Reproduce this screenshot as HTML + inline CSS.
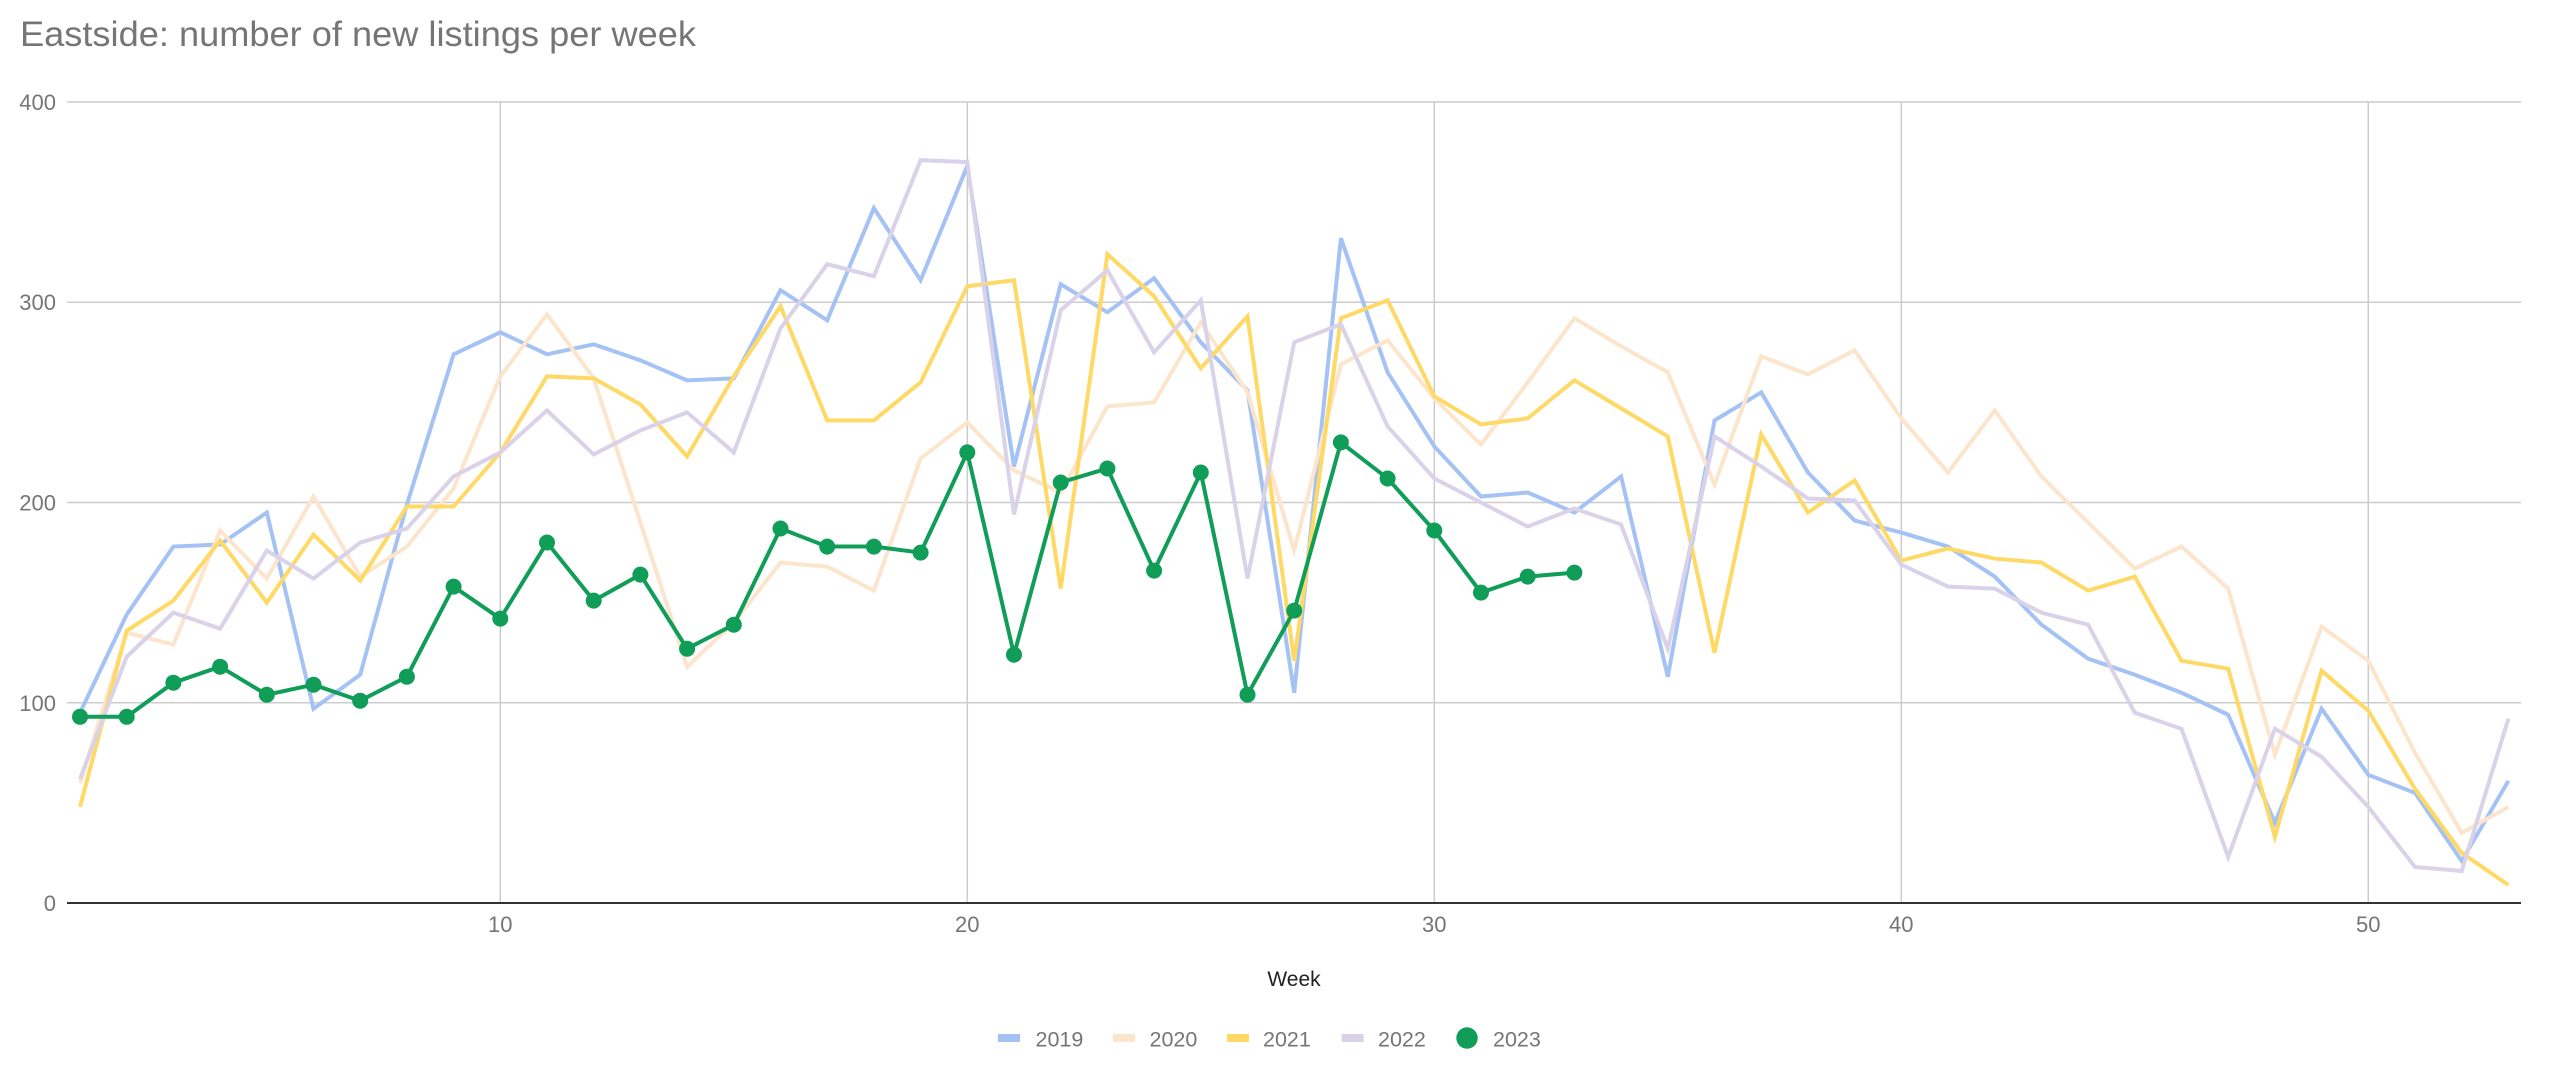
<!DOCTYPE html>
<html>
<head>
<meta charset="utf-8">
<style>
  html, body { margin: 0; padding: 0; background: #ffffff; }
  body { width: 2560px; height: 1077px; overflow: hidden; }
  svg { display: block; }
  text { font-family: "Liberation Sans", Arial, sans-serif; }
</style>
</head>
<body>
<svg width="2560" height="1077" viewBox="0 0 2560 1077" xmlns="http://www.w3.org/2000/svg">
  <rect x="0" y="0" width="2560" height="1077" fill="#ffffff"/>

  <!-- Title -->
  <text x="20" y="46" font-size="35" fill="#757575" textLength="676" lengthAdjust="spacingAndGlyphs">Eastside: number of new listings per week</text>

  <!-- Horizontal gridlines -->
  <g stroke="#cccccc" stroke-width="1.5">
    <line x1="67" y1="102" x2="2521" y2="102"/>
    <line x1="67" y1="302.3" x2="2521" y2="302.3"/>
    <line x1="67" y1="502.5" x2="2521" y2="502.5"/>
    <line x1="67" y1="702.8" x2="2521" y2="702.8"/>
  </g>
  <!-- Vertical gridlines -->
  <g stroke="#cccccc" stroke-width="1.5">
    <line x1="500.3" y1="102" x2="500.3" y2="903"/>
    <line x1="967.3" y1="102" x2="967.3" y2="903"/>
    <line x1="1434.3" y1="102" x2="1434.3" y2="903"/>
    <line x1="1901.3" y1="102" x2="1901.3" y2="903"/>
    <line x1="2368.3" y1="102" x2="2368.3" y2="903"/>
  </g>

  <!-- Y axis labels -->
  <g font-size="22" fill="#757575" text-anchor="end">
    <text x="56" y="110">400</text>
    <text x="56" y="310">300</text>
    <text x="56" y="510.5">200</text>
    <text x="56" y="710.8">100</text>
    <text x="56" y="911">0</text>
  </g>

  <!-- X axis labels -->
  <g font-size="22" fill="#757575" text-anchor="middle">
    <text x="500.3" y="932">10</text>
    <text x="967.3" y="932">20</text>
    <text x="1434.3" y="932">30</text>
    <text x="1901.3" y="932">40</text>
    <text x="2368.3" y="932">50</text>
  </g>

  <!-- Axis title -->
  <text x="1294" y="986" font-size="21" fill="#222222" text-anchor="middle">Week</text>

  <!-- Series (data coordinates: x = week, y = value) -->
  <g transform="matrix(46.7 0 0 -2.0025 33.3 903)" fill="none" stroke-linejoin="miter">
    <polyline vector-effect="non-scaling-stroke" stroke="#a4c2f4" stroke-width="4"
      points="1,95 2,144 3,178 4,179 5,195 6,97 7,114 8,199 9,274 10,285 11,274 12,279 13,271 14,261 15,262 16,306 17,291 18,347 19,311 20,368 21,218 22,309 23,295 24,312 25,280 26,256 27,105 28,332 29,265 30,228 31,203 32,205 33,195 34,213 35,113 36,241 37,255 38,215 39,191 40,185 41,178 42,163 43,139 44,122 45,114 46,105 47,94 48,40 49,97 50,64 51,55 52,21 53,61"/>
    <polyline vector-effect="non-scaling-stroke" stroke="#fce5cd" stroke-width="4"
      points="1,60 2,135 3,129 4,186 5,162 6,203 7,163 8,178 9,207 10,263 11,294 12,262 13,190 14,118 15,140 16,170 17,168 18,156 19,222 20,240 21,216 22,205 23,248 24,250 25,290 26,255 27,176 28,269 29,281 30,252 31,229 32,260 33,292 34,278 35,265 36,209 37,273 38,264 39,276 40,242 41,215 42,246 43,213 44,190 45,167 46,178 47,157 48,74 49,138 50,121 51,75 52,35 53,48"/>
    <polyline vector-effect="non-scaling-stroke" stroke="#ffd966" stroke-width="4"
      points="1,48 2,136 3,151 4,181 5,150 6,184 7,161 8,198 9,198 10,225 11,263 12,262 13,249 14,223 15,263 16,298 17,241 18,241 19,260 20,308 21,311 22,157 23,324 24,303 25,267 26,293 27,121 28,292 29,301 30,253 31,239 32,242 33,261 34,247 35,233 36,125 37,234 38,195 39,211 40,171 41,177 42,172 43,170 44,156 45,163 46,121 47,117 48,33 49,116 50,96 51,57 52,25 53,9"/>
    <polyline vector-effect="non-scaling-stroke" stroke="#d9d2e9" stroke-width="4"
      points="1,62 2,123 3,145 4,137 5,176 6,162 7,180 8,187 9,213 10,225 11,246 12,224 13,236 14,245 15,225 16,287 17,319 18,313 19,371 20,370 21,194 22,296 23,316 24,275 25,301 26,162 27,280 28,289 29,238 30,212 31,200 32,188 33,197 34,189 35,127 36,233 37,218 38,202 39,201 40,169 41,158 42,157 43,145 44,139 45,95 46,87 47,23 48,87 49,73 50,48 51,18 52,16 53,92"/>
    <polyline vector-effect="non-scaling-stroke" stroke="#0f9d58" stroke-width="4"
      points="1,93 2,93 3,110 4,118 5,104 6,109 7,101 8,113 9,158 10,142 11,180 12,151 13,164 14,127 15,139 16,187 17,178 18,178 19,175 20,225 21,124 22,210 23,217 24,166 25,215 26,104 27,146 28,230 29,212 30,186 31,155 32,163 33,165"/>
  </g>

  <!-- 2023 dots -->
  <g fill="#0f9d58">
    <circle cx="80" cy="716.8" r="8"/>
    <circle cx="126.7" cy="716.8" r="8"/>
    <circle cx="173.4" cy="682.7" r="8"/>
    <circle cx="220.1" cy="666.7" r="8"/>
    <circle cx="266.8" cy="694.7" r="8"/>
    <circle cx="313.5" cy="684.7" r="8"/>
    <circle cx="360.2" cy="700.7" r="8"/>
    <circle cx="406.9" cy="676.7" r="8"/>
    <circle cx="453.6" cy="586.6" r="8"/>
    <circle cx="500.3" cy="618.6" r="8"/>
    <circle cx="547.0" cy="542.5" r="8"/>
    <circle cx="593.7" cy="600.6" r="8"/>
    <circle cx="640.4" cy="574.6" r="8"/>
    <circle cx="687.1" cy="648.7" r="8"/>
    <circle cx="733.8" cy="624.7" r="8"/>
    <circle cx="780.5" cy="528.5" r="8"/>
    <circle cx="827.2" cy="546.6" r="8"/>
    <circle cx="873.9" cy="546.6" r="8"/>
    <circle cx="920.6" cy="552.6" r="8"/>
    <circle cx="967.3" cy="452.4" r="8"/>
    <circle cx="1014.0" cy="654.7" r="8"/>
    <circle cx="1060.7" cy="482.5" r="8"/>
    <circle cx="1107.4" cy="468.5" r="8"/>
    <circle cx="1154.1" cy="570.6" r="8"/>
    <circle cx="1200.8" cy="472.5" r="8"/>
    <circle cx="1247.5" cy="694.7" r="8"/>
    <circle cx="1294.2" cy="610.6" r="8"/>
    <circle cx="1340.9" cy="442.4" r="8"/>
    <circle cx="1387.6" cy="478.5" r="8"/>
    <circle cx="1434.3" cy="530.5" r="8"/>
    <circle cx="1481.0" cy="592.6" r="8"/>
    <circle cx="1527.7" cy="576.6" r="8"/>
    <circle cx="1574.4" cy="572.6" r="8"/>
  </g>

  <!-- Baseline -->
  <line x1="67" y1="903" x2="2521" y2="903" stroke="#333333" stroke-width="2"/>

  <!-- Legend -->
  <g>
    <rect x="998" y="1034" width="22" height="8" fill="#a4c2f4"/>
    <text x="1035.5" y="1046.5" font-size="21.5" fill="#757575">2019</text>
    <rect x="1113" y="1034" width="22" height="8" fill="#fce5cd"/>
    <text x="1149.5" y="1046.5" font-size="21.5" fill="#757575">2020</text>
    <rect x="1227" y="1034" width="22" height="8" fill="#ffd966"/>
    <text x="1263" y="1046.5" font-size="21.5" fill="#757575">2021</text>
    <rect x="1341.6" y="1034" width="22" height="8" fill="#d9d2e9"/>
    <text x="1378" y="1046.5" font-size="21.5" fill="#757575">2022</text>
    <circle cx="1467" cy="1038" r="10.7" fill="#0f9d58"/>
    <text x="1493" y="1046.5" font-size="21.5" fill="#757575">2023</text>
  </g>
</svg>
</body>
</html>
